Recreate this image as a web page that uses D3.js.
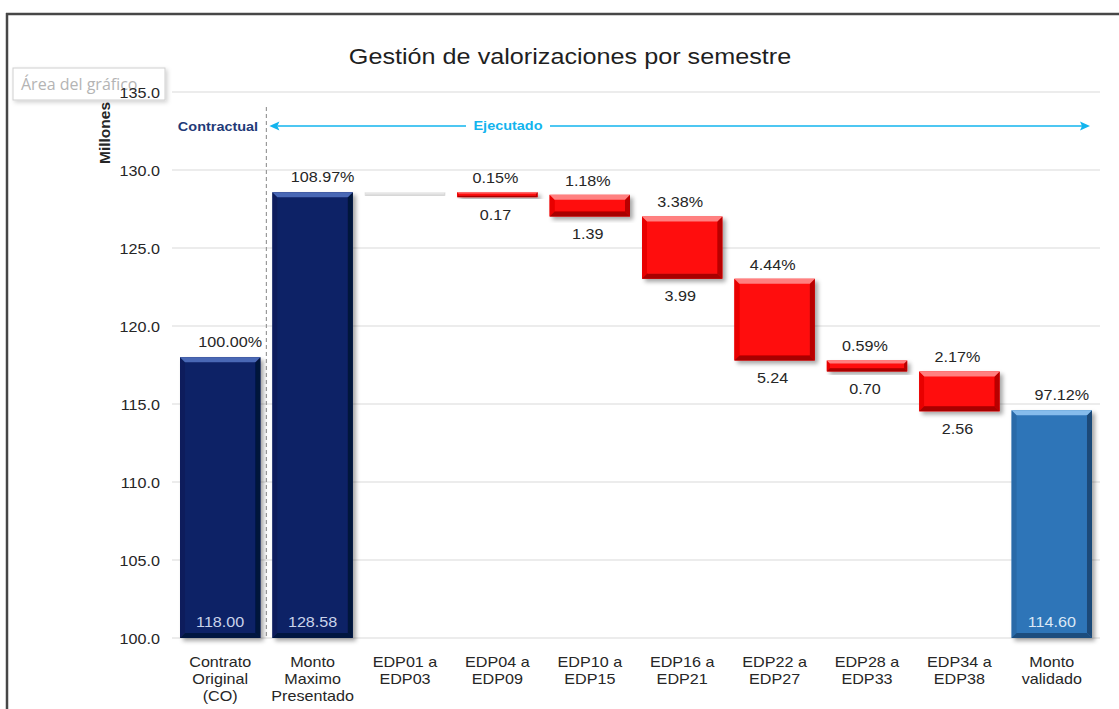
<!DOCTYPE html>
<html><head><meta charset="utf-8">
<script src="https://cdn.jsdelivr.net/npm/d3@7/dist/d3.min.js"></script>
<style>html,body{margin:0;padding:0;background:#fff;overflow:hidden}</style>
</head><body>
<svg id="chart" width="1119" height="709"></svg>
<script>
// ---------- DATA ----------
const categories = ["Contrato\nOriginal\n(CO)", "Monto\nMaximo\nPresentado", "EDP01 a\nEDP03", "EDP04 a\nEDP09",
  "EDP10 a\nEDP15", "EDP16 a\nEDP21", "EDP22 a\nEDP27", "EDP28 a\nEDP33", "EDP34 a\nEDP38", "Monto\nvalidado"];
const totals = [118.00, 128.58, null, null, null, null, null, null, null, 114.60];
const deltas = [null, null, 0.00, 0.17, 1.39, 3.99, 5.24, 0.70, 2.56, null];
const pctLabels = ["100.00%", "108.97%", "", "0.15%", "1.18%", "3.38%", "4.44%", "0.59%", "2.17%", "97.12%"];
const deltaLabels = ["", "", "", "0.17", "1.39", "3.99", "5.24", "0.70", "2.56", ""];
const totalLabels = ["118.00", "128.58", "", "", "", "", "", "", "", "114.60"];
const yTicks = [100, 105, 110, 115, 120, 125, 130, 135];
const title = "Gestión de valorizaciones por semestre";
const yAxisTitle = "Millones";

// ---------- LAYOUT ----------
const SX = 1.13;
const FONT = "'Liberation Sans', Arial, Helvetica, sans-serif";
const svg = d3.select("#chart");
const plot = {left: 174, right: 1098, top: 92, bottom: 638};

const x = d3.scaleBand().domain(d3.range(categories.length)).range([plot.left, plot.right]).paddingInner(0.13).paddingOuter(0.065);
const y = d3.scaleLinear().domain([100, 135]).range([plot.bottom, plot.top]);

function T(parent, px, py, s, o = {}) {
  const t = parent.append("text")
    .attr("transform", `translate(${px},${py}) scale(${o.sx ?? SX},1)`)
    .attr("text-anchor", o.anchor || "middle")
    .style("font-family", o.family || FONT)
    .style("font-size", (o.size || 14.3) + "px")
    .attr("fill", o.fill || "#262626")
    .text(s);
  if (o.weight) t.style("font-weight", o.weight);
  return t;
}

// defs
const defs = svg.append("defs");
const sh = defs.append("filter").attr("id", "shadow").attr("x", "-20%").attr("y", "-20%").attr("width", "150%").attr("height", "150%");
sh.append("feDropShadow").attr("dx", 3).attr("dy", 3).attr("stdDeviation", 2).attr("flood-color", "#000").attr("flood-opacity", 0.35);
const ts = defs.append("filter").attr("id", "tipshadow").attr("x", "-10%").attr("y", "-20%").attr("width", "130%").attr("height", "160%");
ts.append("feDropShadow").attr("dx", 2).attr("dy", 2).attr("stdDeviation", 2).attr("flood-color", "#000").attr("flood-opacity", 0.18);

// frame
svg.append("line").attr("x1", 7).attr("x2", 7).attr("y1", 13).attr("y2", 709).attr("stroke", "#474747").attr("stroke-width", 2.5);
svg.append("line").attr("x1", 6).attr("x2", 1119).attr("y1", 14).attr("y2", 14).attr("stroke", "#474747").attr("stroke-width", 2.5);

// tooltip "Área del gráfico"
const tip = svg.append("g");
tip.append("rect").attr("x", 13).attr("y", 68).attr("width", 152).attr("height", 32).attr("fill", "#fff").attr("stroke", "#cfcfcf").attr("filter", "url(#tipshadow)");
T(tip, 21, 90, "Área del gráfico", {anchor: "start", sx: 1, size: 16, fill: "#b4b4b4", family: "'Open Sans', 'Noto Sans', sans-serif"});

// title
T(svg, 570, 64, title, {size: 22.3, fill: "#1f1f1f"});

// gridlines
const grid = svg.append("g");
grid.selectAll("line").data(yTicks).join("line")
  .attr("x1", plot.left - 2).attr("x2", plot.right + 2)
  .attr("y1", d => y(d)).attr("y2", d => y(d))
  .attr("stroke", "#d9d9d9").attr("stroke-width", 1.2);

// y axis labels
const yAxis = svg.append("g").attr("transform", `translate(${plot.left},0)`)
  .call(d3.axisLeft(y).tickValues(yTicks).tickFormat(d3.format(".1f")).tickSize(0).tickPadding(14));
yAxis.select(".domain").remove();
yAxis.selectAll("text")
  .style("font-family", FONT).style("font-size", "14.3px").attr("fill", "#262626")
  .attr("x", -14 / SX).attr("dy", "0.36em").attr("transform", `scale(${SX},1)`);

// y axis title
svg.append("text").attr("transform", `translate(110,133) rotate(-90) `)
  .attr("text-anchor", "middle").style("font-family", FONT).style("font-size", "15.5px").style("font-weight", "bold")
  .attr("fill", "#262626").text(yAxisTitle);

// dashed separator between Contractual and Ejecutado
const sepX = x(0) + x.bandwidth() + x.step() * x.paddingInner() / 2;
svg.append("line").attr("x1", sepX).attr("x2", sepX).attr("y1", 107).attr("y2", plot.bottom)
  .attr("stroke", "#9a9a9a").attr("stroke-width", 1.2).attr("stroke-dasharray", "4,3");

// section labels and arrow
T(svg, 218, 131, "Contractual", {size: 12.8, weight: "bold", fill: "#1f3a78"});
const arrowY = 126, cyan = "#12b4ee";
const aL = sepX + 3, aR = plot.right - 8, ejX = 508;
svg.append("line").attr("x1", aL + 8).attr("x2", ejX - 42).attr("y1", arrowY).attr("y2", arrowY).attr("stroke", cyan).attr("stroke-width", 1.6);
svg.append("line").attr("x1", ejX + 42).attr("x2", aR - 8).attr("y1", arrowY).attr("y2", arrowY).attr("stroke", cyan).attr("stroke-width", 1.6);
svg.append("path").attr("d", `M${aL},${arrowY} L${aL + 10},${arrowY - 4.5} L${aL + 8},${arrowY} L${aL + 10},${arrowY + 4.5} Z`).attr("fill", cyan);
svg.append("path").attr("d", `M${aR},${arrowY} L${aR - 10},${arrowY - 4.5} L${aR - 8},${arrowY} L${aR - 10},${arrowY + 4.5} Z`).attr("fill", cyan);
T(svg, ejX, 130, "Ejecutado", {size: 12.8, weight: "bold", fill: cyan});

// ---------- BARS ----------
const palettes = {
  navy: {face: "#0b2266", top: "#4a67b5", bottom: "#061740", left: "#0a1f5c", right: "#04123a"},
  blue: {face: "#2e74b8", top: "#86bcec", bottom: "#1c4d7e", left: "#2a6aa8", right: "#1a4a78"},
  red:  {face: "#ff0a0a", top: "#ff8080", bottom: "#a80000", left: "#e80000", right: "#b80000"},
  gray: {face: "#e3e3e3", top: "#eeeeee", bottom: "#d0d0d0", left: "#e0e0e0", right: "#d6d6d6"}
};

function bevelBar(g, x0, y0, w, h, p, shadow) {
  const b = Math.max(1, Math.min(5, h * 0.28, w * 0.1));
  const grp = g.append("g");
  if (shadow) grp.attr("filter", "url(#shadow)");
  grp.append("rect").attr("x", x0).attr("y", y0).attr("width", w).attr("height", h).attr("fill", p.face);
  const poly = (pts, fill) => grp.append("polygon").attr("points", pts.map(q => q.join(",")).join(" ")).attr("fill", fill);
  poly([[x0, y0], [x0 + b, y0 + b], [x0 + b, y0 + h - b], [x0, y0 + h]], p.left);
  poly([[x0 + w, y0], [x0 + w - b, y0 + b], [x0 + w - b, y0 + h - b], [x0 + w, y0 + h]], p.right);
  poly([[x0, y0 + h], [x0 + w, y0 + h], [x0 + w - b, y0 + h - b], [x0 + b, y0 + h - b]], p.bottom);
  poly([[x0, y0], [x0 + w, y0], [x0 + w - b, y0 + b], [x0 + b, y0 + b]], p.top);
}

const barsG = svg.append("g");
const labelsG = svg.append("g");
let running = null;
const lastIdx = categories.length - 1;
categories.forEach((c, i) => {
  const bx = x(i), bw = x.bandwidth(), cx = bx + bw / 2;
  if (totals[i] != null) {
    const top = y(totals[i]);
    const pal = i === lastIdx ? palettes.blue : palettes.navy;
    bevelBar(barsG, bx, top, bw, plot.bottom - top, pal, true);
    running = totals[i];
    if (pctLabels[i]) T(labelsG, cx + 10, top - 10.5, pctLabels[i]);
    if (totalLabels[i]) T(labelsG, cx, plot.bottom - 11, totalLabels[i], {fill: i === lastIdx ? "#dbe8f6" : "#c9d3ea"});
  } else if (deltas[i] != null) {
    const start = running, end = running - deltas[i];
    const top = y(start);
    let h = y(end) - top;
    const isZero = deltas[i] === 0;
    const minH = isZero ? 3.5 : 5;
    if (h < minH) h = minH;
    bevelBar(barsG, bx, top, bw, h, isZero ? palettes.gray : palettes.red, !isZero);
    if (pctLabels[i]) T(labelsG, cx - 2, top - 9, pctLabels[i]);
    if (deltaLabels[i]) T(labelsG, cx - 2, top + h + 22.5, deltaLabels[i]);
    running = end;
  }
});

// ---------- X AXIS (category labels) ----------
const xAxis = svg.append("g").attr("transform", `translate(0,${plot.bottom})`)
  .call(d3.axisBottom(x).tickSize(0).tickFormat(() => ""));
xAxis.select(".domain").remove();
xAxis.selectAll(".tick").each(function(d) {
  const t = d3.select(this).append("text")
    .attr("text-anchor", "middle").attr("transform", `scale(${SX},1)`)
    .style("font-family", FONT).style("font-size", "14.3px").attr("fill", "#262626");
  categories[d].split("\n").forEach((line, k) => {
    t.append("tspan").attr("x", 0).attr("y", 29 + k * 17).text(line);
  });
});
</script>
</body></html>
